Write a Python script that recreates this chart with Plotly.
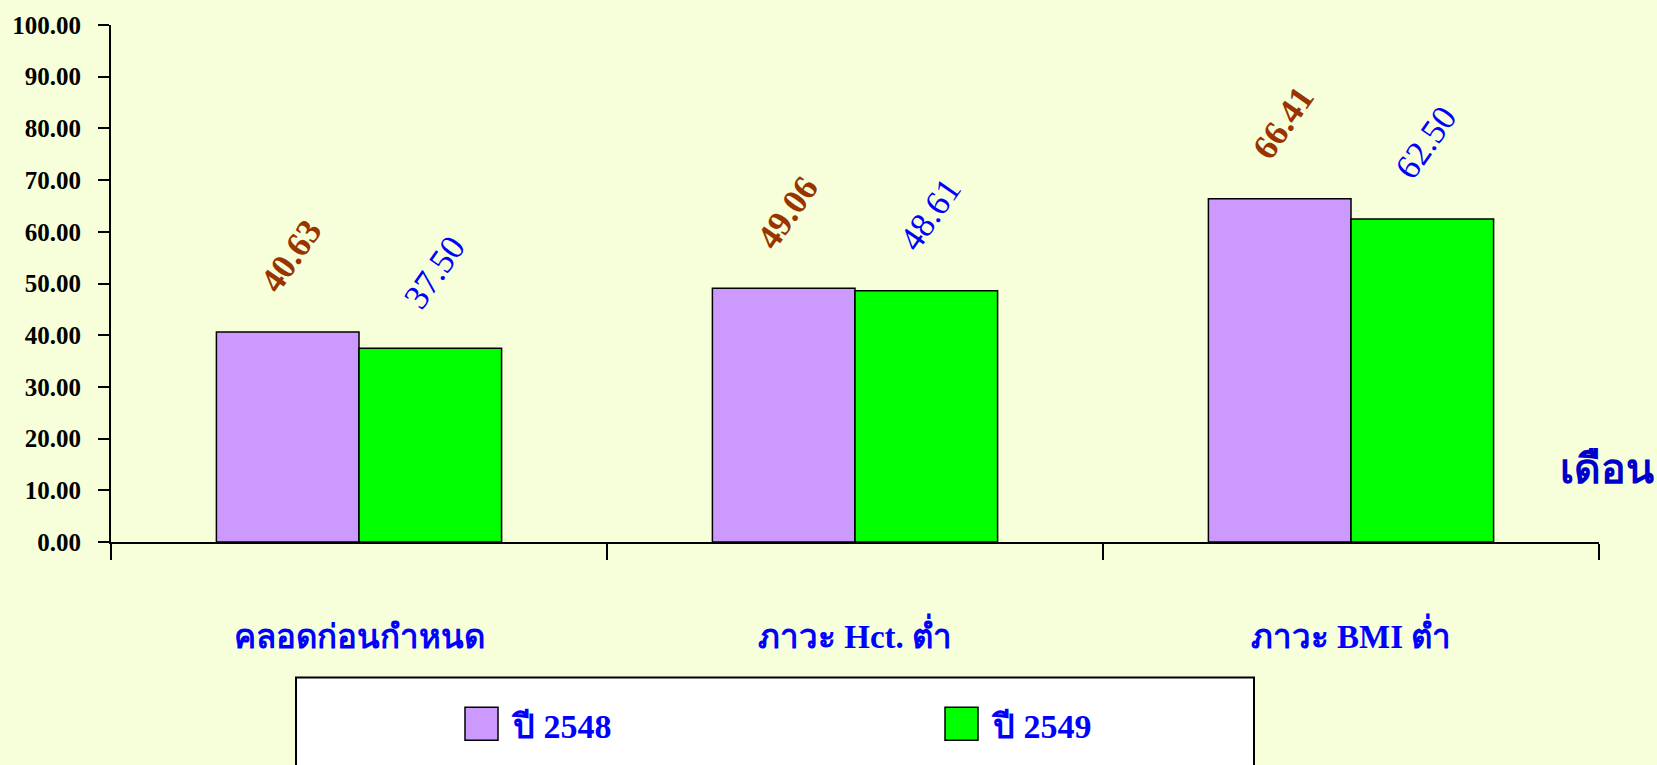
import plotly.graph_objects as go

# ---- data ----
categories = ["คลอดก่อนกำหนด", "ภาวะ Hct. ต่ำ", "ภาวะ BMI ต่ำ"]
series_names = ["ปี 2548", "ปี 2549"]
values_2548 = [40.63, 49.06, 66.41]
values_2549 = [37.50, 48.61, 62.50]
y_ticks = [0, 10, 20, 30, 40, 50, 60, 70, 80, 90, 100]
axis_note = "เดือน"

# ---- styling / geometry ----
W, H = 1657, 765
ML, MR, MT, MB = 111, 58, 23, 223
PLOT_W = W - ML - MR
PLOT_H = H - MT - MB
BG = "#F6FFD9"
BAR_COLORS = ["#CC99FF", "#00FF00"]
LABEL_COLORS = ["#993300", "#0000FF"]
SERIF = "Liberation Serif, Times New Roman, serif"
BARGAP = 0.425


def px_x(px):
    return (px - ML) / PLOT_W


def px_y(py):
    return (H - MB - py) / PLOT_H


fig = go.Figure()
all_series = [values_2548, values_2549]
for name, vals, col in zip(series_names, all_series, BAR_COLORS):
    fig.add_trace(go.Bar(
        x=categories, y=vals, name=name,
        marker=dict(color=col, line=dict(color="black", width=1.5)),
        showlegend=False,
    ))

# rotated value labels above each bar
cat_px = PLOT_W / len(categories)
bar_px = cat_px * (1 - BARGAP) / len(all_series)
for si, vals in enumerate(all_series):
    shift = (si - (len(all_series) - 1) / 2) * bar_px + 4
    for cat, v in zip(categories, vals):
        txt = f"{v:.2f}"
        if si == 0:
            txt = f"<b>{txt}</b>"
        fig.add_annotation(
            x=cat, y=v, xref="x", yref="y", text=txt, showarrow=False,
            textangle=-55, xanchor="center", yanchor="middle",
            xshift=shift, yshift=76,
            font=dict(family=SERIF, size=35, color=LABEL_COLORS[si]),
        )

# axis note at the right of the category axis
fig.add_annotation(
    x=px_x(1607), y=px_y(469), xref="paper", yref="paper",
    text=f"<b>{axis_note}</b>", showarrow=False,
    xanchor="center", yanchor="middle",
    font=dict(family=SERIF, size=41, color="#0000CC"),
)

# legend box drawn below the chart
fig.add_shape(type="rect", xref="paper", yref="paper",
              x0=px_x(296), x1=px_x(1254), y0=px_y(772), y1=px_y(678),
              line=dict(color="black", width=2), fillcolor="white", layer="above")
legend_left = [465, 945]
for name, col, lx in zip(series_names, BAR_COLORS, legend_left):
    fig.add_shape(type="rect", xref="paper", yref="paper",
                  x0=px_x(lx), x1=px_x(lx + 33), y0=px_y(741), y1=px_y(708),
                  line=dict(color="black", width=1.5), fillcolor=col, layer="above")
    fig.add_annotation(
        x=px_x(lx + 44), y=px_y(727), xref="paper", yref="paper",
        text=f"<b>{name}</b>", showarrow=False,
        xanchor="left", yanchor="middle",
        font=dict(family=SERIF, size=34, color="#0000FF"),
    )

fig.update_layout(
    width=W, height=H,
    margin=dict(l=ML, r=MR, t=MT, b=MB, pad=0),
    paper_bgcolor=BG, plot_bgcolor=BG,
    barmode="group", bargap=BARGAP, bargroupgap=0,
    showlegend=False,
    xaxis=dict(
        type="category", range=[-0.5, len(categories) - 0.5],
        showline=True, linecolor="black", linewidth=2,
        ticks="outside", tickson="boundaries", ticklen=16, tickwidth=2, tickcolor="black",
        showgrid=False, zeroline=False,
        tickfont=dict(family=SERIF, size=33, color="#0000FF", weight="bold"),
        ticklabelstandoff=64,
    ),
    yaxis=dict(
        range=[0, 100], tickvals=y_ticks, tickformat=".2f",
        showline=True, linecolor="black", linewidth=2,
        ticks="outside", ticklen=11, tickwidth=2, tickcolor="black",
        showgrid=False, zeroline=False,
        tickfont=dict(family=SERIF, size=25, color="black", weight="bold"),
        ticklabelstandoff=12,
    ),
)

fig.write_html("out.html")
